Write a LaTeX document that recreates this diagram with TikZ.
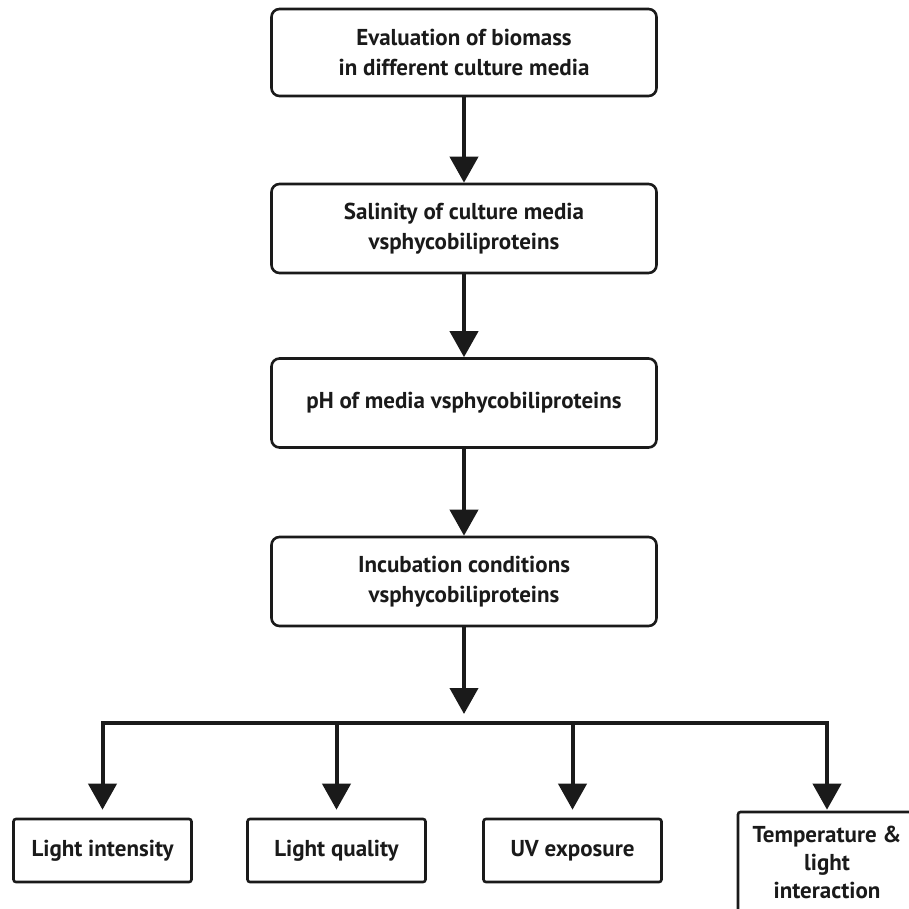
\documentclass[tikz,border=0pt]{standalone}
\usepackage{fontspec}
\setmainfont{PT Sans}
\usetikzlibrary{arrows.meta}
\definecolor{ink}{HTML}{1A1A1A}
\begin{document}
\begin{tikzpicture}[x=1pt,y=-1pt,
  topbox/.style={draw=ink, line width=2.6pt, rounded corners=8pt, minimum width=385pt,
    align=center, inner sep=0pt, text=ink, font=\bfseries\fontsize{23}{30}\selectfont},
  botbox/.style={draw=ink, line width=2.6pt, rounded corners=2.5pt, minimum width=178pt,
    align=center, inner sep=0pt, text=ink, font=\bfseries\fontsize{23}{28}\selectfont},
  conn/.style={draw=ink, line width=4pt, -{Triangle[width=28pt,length=26pt]}},
  barline/.style={draw=ink, line width=4.5pt}]
\useasboundingbox[fill=white] (0,0) rectangle (909,909);
% main column
\node[topbox, minimum height=87pt] (b1) at (464,52.5) {Evaluation of biomass\\in different culture media};
\node[topbox, minimum height=89pt] (b2) at (464,228.5) {Salinity of culture media\\vsphycobiliproteins};
\node[topbox, minimum height=89pt] (b3) at (464,403) {pH of media vsphycobiliproteins};
\node[topbox, minimum height=89pt] (b4) at (464,581.5) {Incubation conditions\\vsphycobiliproteins};
% bottom row
\node[botbox, minimum height=63pt] (li) at (102.5,850.5) {Light intensity};
\node[botbox, minimum height=63pt] (lq) at (336.5,850.5) {Light quality};
\node[botbox, minimum height=63pt] (uv) at (572.5,850.5) {UV exposure};
\node[botbox, minimum height=100pt] (tl) at (827,862) {Temperature \&\\light\\interaction};
% connectors
\draw[conn] (b1) -- (b2);
\draw[conn] (b2) -- (b3);
\draw[conn] (b3) -- (b4);
\coordinate (split) at (464,723);
\coordinate (barL) at (101,723);
\coordinate (barR) at (829,723);
\draw[conn, shorten >=9pt] (b4.south) -- (split);
\draw[barline] (barL) -- (barR);
\draw[conn, shorten >=8pt] (li.north |- split) -- (li.north);
\draw[conn, shorten >=8pt] (lq.north |- split) -- (lq.north);
\draw[conn, shorten >=8pt] (uv.north |- split) -- (uv.north);
\draw[conn, shorten >=1pt] (tl.north |- split) -- (tl.north);
\end{tikzpicture}
\end{document}
